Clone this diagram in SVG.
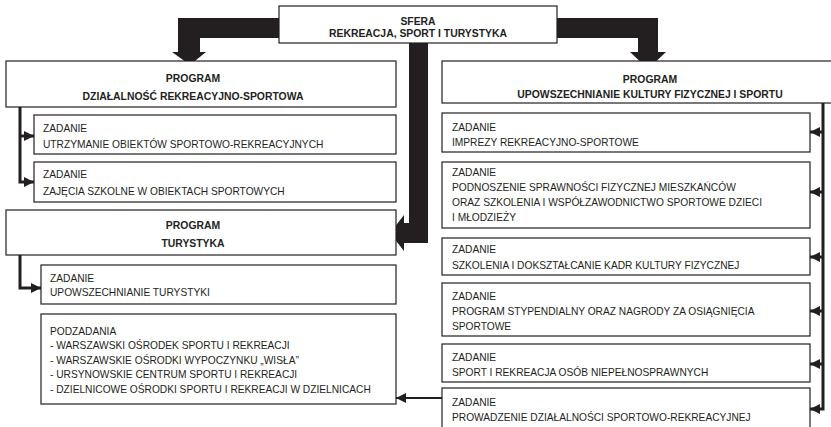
<svg xmlns="http://www.w3.org/2000/svg" width="831" height="427" viewBox="0 0 831 427">
<defs>
<style>
.box{fill:#fff;stroke:#231f20;stroke-width:1.2}
.t{font-family:"Liberation Sans",Arial,sans-serif;font-size:10.2px;fill:#231f20}
.b{font-weight:bold;font-size:10.4px;text-anchor:middle}
.con{fill:none;stroke:#231f20;stroke-width:3}
.thin{fill:none;stroke:#231f20;stroke-width:2}
.big{fill:#231f20}
</style>
<marker id="ah" markerUnits="userSpaceOnUse" markerWidth="10" markerHeight="10" refX="10" refY="5" orient="auto">
<path d="M0,0 L10,5 L0,10 z" fill="#231f20"/>
</marker>
</defs>

<g id="connectors">
<path class="big" d="M279,18 L178,18 L178,52 L172,52 L190,65 L206,52 L200,52 L200,38 L279,38 z"/>
<path class="big" d="M557,18 L658,18 L658,52 L666,52 L648,69 L630,52 L638,52 L638,38 L557,38 z"/>
<path class="big" d="M409,43 L428,43 L428,243 L404,243 L404,251 L390,233 L404,215 L404,223 L409,223 z"/>
<path class="con" d="M20,107 L20,182 L34,182" marker-end="url(#ah)"/>
<path class="con" d="M20,136 L34,136" marker-end="url(#ah)"/>
<path class="con" d="M20,255 L20,288 L41,288" marker-end="url(#ah)"/>
<path class="con" d="M823,103 L823,409 L810,409" marker-end="url(#ah)"/>
<path class="con" d="M823,132 L810,132" marker-end="url(#ah)"/>
<path class="con" d="M823,192 L810,192" marker-end="url(#ah)"/>
<path class="con" d="M823,257 L810,257" marker-end="url(#ah)"/>
<path class="con" d="M823,311 L810,311" marker-end="url(#ah)"/>
<path class="con" d="M823,364 L810,364" marker-end="url(#ah)"/>
<path class="thin" d="M442,398 L396,398" marker-end="url(#ah)"/>
</g>

<g id="sfera">
<rect class="box" x="279" y="6" width="278" height="37"/>
<text class="t b" x="418" y="24.5">SFERA</text>
<text class="t b" x="418" y="37">REKREACJA, SPORT I TURYSTYKA</text>
</g>

<g id="program-dzialalnosc">
<rect class="box" x="6" y="61" width="390" height="46"/>
<text class="t b" x="193" y="81.5">PROGRAM</text>
<text class="t b" x="193" y="99.5">DZIAŁALNOŚĆ REKREACYJNO-SPORTOWA</text>
</g>

<g id="zadanie-utrzymanie">
<rect class="box" x="34" y="115" width="362" height="39"/>
<text class="t" x="43" y="131.5">ZADANIE</text>
<text class="t" x="43" y="147.5">UTRZYMANIE OBIEKTÓW SPORTOWO-REKREACYJNYCH</text>
</g>

<g id="zadanie-zajecia">
<rect class="box" x="34" y="162" width="362" height="40"/>
<text class="t" x="43" y="177.5">ZADANIE</text>
<text class="t" x="43" y="194.5">ZAJĘCIA SZKOLNE W OBIEKTACH SPORTOWYCH</text>
</g>

<g id="program-turystyka">
<rect class="box" x="6" y="210" width="390" height="45"/>
<text class="t b" x="193" y="228.5">PROGRAM</text>
<text class="t b" x="193" y="246.5">TURYSTYKA</text>
</g>

<g id="zadanie-turystyka">
<rect class="box" x="41" y="265" width="355" height="39"/>
<text class="t" x="50" y="281.5">ZADANIE</text>
<text class="t" x="50" y="295.5">UPOWSZECHNIANIE TURYSTYKI</text>
</g>

<g id="podzadania">
<rect class="box" x="41" y="314" width="355" height="90"/>
<text class="t" x="50" y="335">PODZADANIA</text>
<text class="t" x="50" y="349">- WARSZAWSKI OŚRODEK SPORTU I REKREACJI</text>
<text class="t" x="50" y="363.5">- WARSZAWSKIE OŚRODKI WYPOCZYNKU „WISŁA”</text>
<text class="t" x="50" y="378">- URSYNOWSKIE CENTRUM SPORTU I REKREACJI</text>
<text class="t" x="50" y="392.5">- DZIELNICOWE OŚRODKI SPORTU I REKREACJI W DZIELNICACH</text>
</g>

<g id="program-upowszechnianie">
<rect class="box" x="442" y="61" width="400" height="42"/>
<text class="t b" x="650" y="82.5">PROGRAM</text>
<text class="t b" x="650" y="98">UPOWSZECHNIANIE KULTURY FIZYCZNEJ I SPORTU</text>
</g>

<g id="zadanie-imprezy">
<rect class="box" x="442" y="113" width="368" height="39"/>
<text class="t" x="452" y="130.5">ZADANIE</text>
<text class="t" x="452" y="145.5">IMPREZY REKREACYJNO-SPORTOWE</text>
</g>

<g id="zadanie-podnoszenie">
<rect class="box" x="442" y="162" width="368" height="66"/>
<text class="t" x="452" y="175.5">ZADANIE</text>
<text class="t" x="452" y="190.5">PODNOSZENIE SPRAWNOŚCI FIZYCZNEJ MIESZKAŃCÓW</text>
<text class="t" x="452" y="205.5">ORAZ SZKOLENIA I WSPÓŁZAWODNICTWO SPORTOWE DZIECI</text>
<text class="t" x="452" y="220.5">I MŁODZIEŻY</text>
</g>

<g id="zadanie-szkolenia">
<rect class="box" x="442" y="238" width="368" height="37"/>
<text class="t" x="452" y="252.5">ZADANIE</text>
<text class="t" x="452" y="268.5">SZKOLENIA I DOKSZTAŁCANIE KADR KULTURY FIZYCZNEJ</text>
</g>

<g id="zadanie-stypendia">
<rect class="box" x="442" y="283" width="368" height="53"/>
<text class="t" x="452" y="299.5">ZADANIE</text>
<text class="t" x="452" y="314.5">PROGRAM STYPENDIALNY ORAZ NAGRODY ZA OSIĄGNIĘCIA</text>
<text class="t" x="452" y="329.5">SPORTOWE</text>
</g>

<g id="zadanie-niepelnosprawni">
<rect class="box" x="442" y="344" width="368" height="38"/>
<text class="t" x="452" y="360.5">ZADANIE</text>
<text class="t" x="452" y="375.5">SPORT I REKREACJA OSÓB NIEPEŁNOSPRAWNYCH</text>
</g>

<g id="zadanie-prowadzenie">
<rect class="box" x="442" y="388" width="368" height="50"/>
<text class="t" x="452" y="405.5">ZADANIE</text>
<text class="t" x="452" y="420.5">PROWADZENIE DZIAŁALNOŚCI SPORTOWO-REKREACYJNEJ</text>
</g>
</svg>
